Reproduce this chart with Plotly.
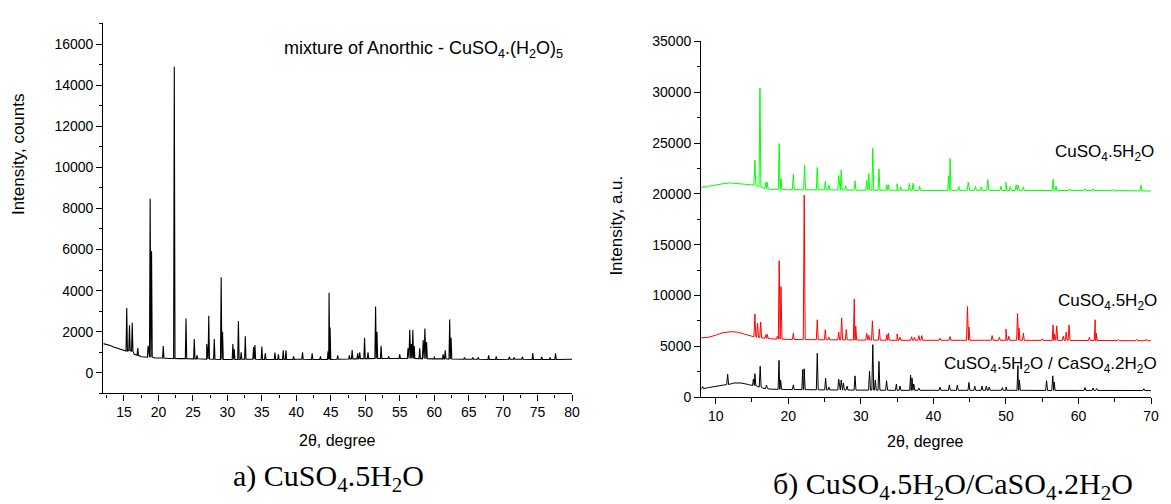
import plotly.graph_objects as go

# ---------------- data ----------------
# (a) CuSO4.5H2O  -- baseline knots
A_BASE_X = [12, 12.5, 13, 13.5, 14, 14.5, 15, 15.2, 16.5, 17.5, 18.3, 19.5, 20.5, 21.5, 23, 25, 27,
            30, 33, 36, 40, 44, 48, 52, 56, 60, 64, 68, 72, 76, 80]
A_BASE_Y = [1420, 1380, 1330, 1260, 1200, 1130, 1070, 1050, 900, 780, 760, 720, 720, 700, 690, 680, 660,
            650, 660, 650, 660, 650, 680, 700, 700, 680, 660, 650, 660, 650, 660]
# (a) peaks: position, top intensity, foot level
A_PEAK_X = [15.4, 15.8, 16.2, 17.0, 18.5, 18.8, 19.0, 20.7, 22.3, 24.0, 25.2, 25.6, 27.0, 27.3, 28.1,
            29.1, 29.3, 30.8, 31.0, 31.6, 32.0, 32.6, 33.8, 34.0, 35.0, 35.5, 36.9, 37.4, 38.1, 38.5,
            39.6, 40.9, 42.3, 43.5, 44.6, 44.75, 44.9, 46.0, 47.7, 48.1, 48.9, 49.2, 49.9, 50.4, 51.5,
            51.7, 52.3, 53.4, 55.0, 56.2, 56.45, 56.7, 56.9, 57.1, 57.9, 58.4, 58.65, 58.9, 60.0, 61.3,
            61.6, 62.25, 62.45, 64.4, 65.6, 66.4, 67.9, 69.0, 70.9, 71.6, 72.8, 74.3, 75.6, 76.8, 77.6]
A_PEAK_TOP = [3150, 2320, 2430, 1200, 1320, 8470, 5930, 1300, 14900, 2640, 1650, 850, 1400, 2780, 1650,
              4650, 2000, 1400, 1150, 2520, 1000, 1780, 1250, 1350, 1280, 950, 990, 900, 1100, 1100,
              800, 1000, 950, 800, 1050, 3900, 2200, 850, 850, 1110, 950, 1000, 1710, 1000, 3230,
              2000, 1320, 800, 900, 1200, 2100, 1400, 2080, 1300, 1200, 1600, 2160, 1500, 800, 900,
              1100, 2590, 1700, 750, 750, 750, 850, 800, 780, 750, 780, 960, 780, 750, 950]
A_PEAK_BASE = [1060, 1080, 1050, 850, 760, 760, 760, 720, 700, 690, 680, 680, 670, 670, 660,
               650, 650, 650, 650, 650, 660, 660, 660, 660, 650, 650, 650, 650, 650, 650,
               650, 660, 650, 650, 650, 650, 650, 660, 670, 680, 680, 690, 690, 690, 700,
               700, 700, 700, 700, 700, 700, 700, 700, 700, 690, 690, 690, 690, 680, 680,
               680, 670, 670, 660, 660, 660, 650, 650, 660, 660, 660, 650, 650, 650, 650]

# (b) green: CuSO4.5H2O (upper)
G_BASE_X = [8, 9, 10, 11, 12, 13, 14, 15, 15.2, 17.5, 20, 25, 30, 35, 40, 45, 50, 55, 60, 65, 70]
G_BASE_Y = [20600, 20750, 20900, 21000, 21080, 21050, 20950, 20880, 20850, 20450, 20400, 20380, 20350,
            20350, 20330, 20350, 20330, 20330, 20330, 20320, 20280]
G_PEAK_X = [8.4, 15.4, 16.1, 16.9, 17.1, 18.75, 19.0, 20.7, 22.25, 24.0, 25.1, 25.6, 26.95, 27.3, 27.9,
            29.2, 30.8, 31.1, 31.65, 32.5, 33.6, 33.8, 35.0, 35.5, 36.7, 37.2, 38.1, 42.1, 42.3, 43.5,
            44.8, 45.8, 46.6, 47.5, 49.3, 50.0, 50.6, 51.4, 51.7, 52.4, 56.5, 56.9, 58.8, 60.9, 62.0,
            64.7, 68.6]
G_PEAK_TOP = [20800, 23330, 30400, 21150, 21150, 24950, 21500, 21930, 22830, 22600, 21240, 20850, 21810,
              22350, 20800, 21270, 21300, 22000, 24480, 22450, 20900, 20900, 21000, 20700, 21050, 21050,
              20760, 21800, 23490, 20730, 21140, 20750, 20700, 21400, 20750, 21140, 20750, 20900, 20850,
              20700, 21430, 20750, 20500, 20500, 20500, 20450, 20860]
G_PEAK_BASE = [20650, 20880, 20700, 20500, 20500, 20450, 20450, 20420, 20400, 20400, 20400, 20400, 20380,
               20380, 20380, 20370, 20360, 20360, 20360, 20360, 20360, 20360, 20360, 20360, 20350, 20350,
               20350, 20350, 20350, 20350, 20350, 20350, 20350, 20350, 20340, 20340, 20340, 20340, 20340,
               20340, 20330, 20330, 20330, 20330, 20330, 20320, 20300]

# (b) red: CuSO4.5H2O (middle)
R_BASE_X = [8, 9, 10, 11, 12.2, 13, 14, 15, 15.2, 17.5, 20, 25, 30, 35, 40, 50, 60, 70]
R_BASE_Y = [5840, 5900, 6100, 6350, 6450, 6400, 6200, 5970, 5950, 5750, 5680, 5650, 5620, 5600, 5600,
            5600, 5580, 5550]
R_PEAK_X = [15.4, 15.77, 16.2, 16.9, 17.1, 18.5, 18.75, 19.0, 20.7, 22.2, 24.0, 25.1, 25.6, 26.95, 27.36,
            28.0, 29.1, 29.3, 30.8, 31.1, 31.6, 32.55, 33.6, 33.8, 35.0, 35.4, 37.0, 37.4, 38.0, 38.4,
            40.9, 42.3, 44.7, 44.9, 48.1, 49.1, 50.0, 50.4, 51.6, 51.8, 52.4, 55.0, 56.5, 56.7, 57.0,
            57.9, 58.3, 58.7, 61.5, 62.3, 62.45, 65.5, 68.0, 69.3]
R_PEAK_TOP = [8190, 7270, 7400, 6150, 6200, 6000, 13430, 10890, 6290, 19870, 7620, 6640, 5900, 6400, 7810,
              6670, 9650, 7000, 6300, 6100, 7520, 6720, 6160, 6300, 6220, 5900, 5950, 5900, 6060, 6060,
              5800, 5970, 8920, 6900, 6060, 5900, 6700, 6000, 8220, 6800, 6290, 5750, 7110, 6200, 7020,
              6000, 6400, 7110, 5900, 7620, 6300, 5700, 5700, 5700]
R_PEAK_BASE = [5950, 5900, 5850, 5800, 5800, 5720, 5720, 5720, 5680, 5670, 5660, 5650, 5650, 5640, 5640,
               5640, 5630, 5630, 5620, 5620, 5620, 5610, 5610, 5610, 5600, 5600, 5600, 5600, 5600, 5600,
               5600, 5600, 5600, 5600, 5600, 5600, 5600, 5600, 5600, 5600, 5600, 5590, 5590, 5590, 5590,
               5590, 5590, 5590, 5580, 5580, 5580, 5570, 5560, 5560]

# (b) black: CuSO4.5H2O / CaSO4.2H2O (lower)
K_BASE_X = [8, 9, 10, 11, 12.5, 13.5, 14.5, 15, 16.5, 17.5, 20, 25, 30, 35, 40, 50, 60, 70]
K_BASE_Y = [830, 950, 1050, 1150, 1400, 1400, 1250, 1150, 900, 800, 750, 720, 700, 680, 680, 680, 670, 650]
K_PEAK_X = [8.2, 11.65, 15.2, 15.4, 16.13, 17.0, 18.73, 18.95, 20.7, 22.0, 22.2, 24.0, 25.15, 25.6, 26.95,
            27.3, 27.6, 28.1, 29.2, 31.2, 31.65, 32.0, 32.5, 33.55, 34.9, 35.4, 36.86, 37.05, 37.3, 38.0,
            40.9, 42.2, 43.3, 44.9, 45.7, 46.7, 47.3, 47.7, 49.5, 50.0, 51.65, 51.85, 55.6, 56.45, 56.65,
            60.9, 62.0, 62.5, 69.0]
K_PEAK_TOP = [1050, 2260, 1800, 2320, 3050, 1200, 3620, 1700, 1210, 2730, 2800, 4320, 1870, 1000, 1780,
              1700, 1400, 1100, 2100, 2570, 5170, 1700, 3520, 1620, 1300, 1100, 2160, 1900, 1300, 900,
              1000, 1210, 1200, 1460, 1100, 1100, 1100, 1000, 950, 1000, 3110, 1700, 1620, 2100, 1500,
              950, 900, 850, 850]
K_PEAK_BASE = [850, 1250, 1150, 1150, 1000, 850, 780, 780, 760, 750, 750, 730, 720, 720, 710,
               710, 710, 710, 700, 700, 700, 700, 690, 690, 680, 680, 680, 680, 680, 680,
               680, 680, 680, 680, 680, 680, 680, 680, 680, 680, 680, 680, 670, 670, 670,
               670, 670, 670, 660]

W = 1171
H = 504


def trace_points(base_x, base_y, pk_x, pk_top, pk_base, half):
    pts = list(zip(base_x, base_y))
    for p, t, b in zip(pk_x, pk_top, pk_base):
        pts += [(p - half, b), (p, t), (p + half, b)]
    pts.sort()
    return [a for a, _ in pts], [c for _, c in pts]


def px(x):
    return x / W


def py(y):
    return 1 - y / H


SANS = "Liberation Sans, Arial, sans-serif"
SERIF = "Liberation Serif, Times New Roman, serif"

fig = go.Figure()

ax, ay = trace_points(A_BASE_X, A_BASE_Y, A_PEAK_X, A_PEAK_TOP, A_PEAK_BASE, 0.1)
fig.add_trace(go.Scatter(x=ax, y=ay, mode="lines", line=dict(color="black", width=1.1),
                         xaxis="x", yaxis="y", hoverinfo="skip"))

kx, ky = trace_points(K_BASE_X, K_BASE_Y, K_PEAK_X, K_PEAK_TOP, K_PEAK_BASE, 0.13)
fig.add_trace(go.Scatter(x=kx, y=ky, mode="lines", line=dict(color="black", width=1),
                         xaxis="x2", yaxis="y2", hoverinfo="skip"))
rx, ry = trace_points(R_BASE_X, R_BASE_Y, R_PEAK_X, R_PEAK_TOP, R_PEAK_BASE, 0.13)
fig.add_trace(go.Scatter(x=rx, y=ry, mode="lines", line=dict(color="#ff0000", width=1),
                         xaxis="x2", yaxis="y2", hoverinfo="skip"))
gx, gy = trace_points(G_BASE_X, G_BASE_Y, G_PEAK_X, G_PEAK_TOP, G_PEAK_BASE, 0.13)
fig.add_trace(go.Scatter(x=gx, y=gy, mode="lines", line=dict(color="#00ff00", width=1),
                         xaxis="x2", yaxis="y2", hoverinfo="skip"))

axis_common = dict(showline=True, linecolor="black", linewidth=1.3, ticks="outside", ticklen=6,
                   tickwidth=1.3, tickcolor="black", showgrid=False, zeroline=False,
                   tickformat="d",
                   tickfont=dict(family=SANS, size=14, color="black"))

fig.update_layout(
    width=W, height=H, margin=dict(l=0, r=0, t=0, b=0),
    paper_bgcolor="white", plot_bgcolor="white", showlegend=False,
    xaxis=dict(domain=[px(104), px(576)], range=[12, 80], dtick=5, tick0=0, anchor="y",
               minor=dict(ticks="outside", dtick=2.5, tick0=0, ticklen=3.5, tickwidth=1.3,
                          tickcolor="black"), **axis_common),
    yaxis=dict(domain=[py(398), py(16)], range=[-1000, 17000], dtick=2000, tick0=0, anchor="x",
               minor=dict(ticks="outside", dtick=1000, tick0=0, ticklen=3.5, tickwidth=1.3,
                          tickcolor="black"), **axis_common),
    xaxis2=dict(domain=[px(706), px(1159)], range=[8, 70], dtick=10, tick0=0, anchor="y2",
                minor=dict(ticks="outside", dtick=5, tick0=0, ticklen=3.5, tickwidth=1.3,
                           tickcolor="black"), **axis_common),
    yaxis2=dict(domain=[py(402), py(34.5)], range=[0, 35000], dtick=5000, tick0=0, anchor="x2",
                minor=dict(ticks="outside", dtick=2500, tick0=0, ticklen=3.5, tickwidth=1.3,
                           tickcolor="black"), **axis_common),
)

ann = []
# axis titles
ann.append(dict(text="Intensity, counts", x=px(18), y=py(151), textangle=-90,
                font=dict(family=SANS, size=17, color="black")))
ann.append(dict(text="2θ, degree", x=px(340), y=py(447),
                font=dict(family=SANS, size=16, color="black")))
ann.append(dict(text="Intensity, a.u.", x=px(621), y=py(225), textangle=-90,
                font=dict(family=SANS, size=17, color="black")))
ann.append(dict(text="2θ, degree", x=px(932), y=py(448),
                font=dict(family=SANS, size=16, color="black")))
# in-plot labels
ann.append(dict(text="mixture of Anorthic - CuSO<sub>4</sub>.(H<sub>2</sub>O)<sub>5</sub>",
                x=px(284), y=py(43), xanchor="left",
                font=dict(family=SANS, size=18, color="black")))
ann.append(dict(text="CuSO<sub>4</sub>.5H<sub>2</sub>O", x=px(1164), y=py(150), xanchor="right",
                font=dict(family=SANS, size=17, color="black")))
ann.append(dict(text="CuSO<sub>4</sub>.5H<sub>2</sub>O", x=px(1167), y=py(304), xanchor="right",
                font=dict(family=SANS, size=17, color="black")))
ann.append(dict(text="CuSO<sub>4</sub>.5H<sub>2</sub>O / CaSO<sub>4</sub>.2H<sub>2</sub>O",
                x=px(1167), y=py(369), xanchor="right",
                font=dict(family=SANS, size=17, color="black")))
# captions
ann.append(dict(text="a) CuSO<sub>4</sub>.5H<sub>2</sub>O", x=px(331), y=py(485),
                font=dict(family=SERIF, size=30, color="black")))
ann.append(dict(text="б) CuSO<sub>4</sub>.5H<sub>2</sub>O/CaSO<sub>4</sub>.2H<sub>2</sub>O",
                x=px(960), y=py(494),
                font=dict(family=SERIF, size=30, color="black")))

for a in ann:
    a.setdefault("xref", "paper")
    a.setdefault("yref", "paper")
    a.setdefault("showarrow", False)
    a.setdefault("xanchor", "center")
    a.setdefault("yanchor", "middle")
fig.update_layout(annotations=ann)

fig.write_html("out.html")
